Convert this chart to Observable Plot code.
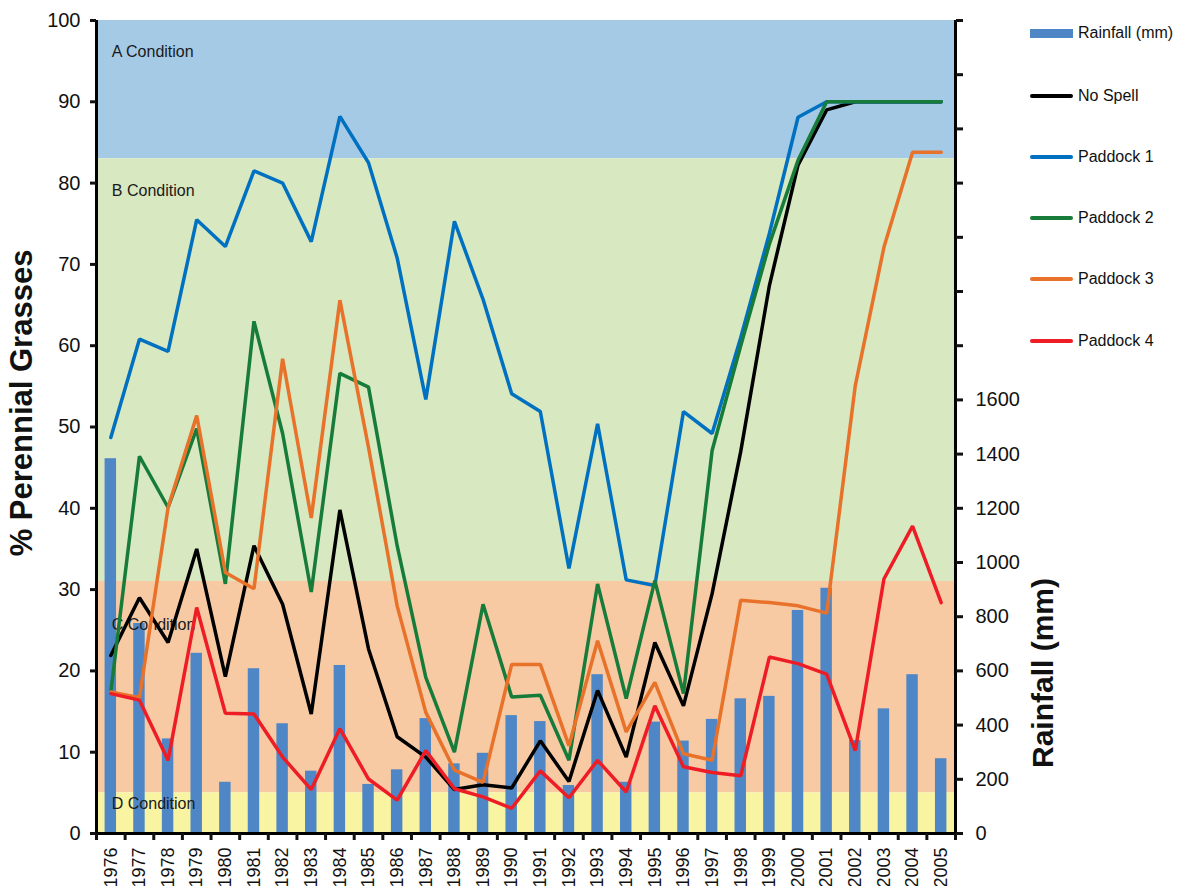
<!DOCTYPE html>
<html><head><meta charset="utf-8">
<script src="https://cdn.jsdelivr.net/npm/d3@7"></script>
<script src="https://cdn.jsdelivr.net/npm/@observablehq/plot@0.6"></script>
<style>
body{margin:0;background:#fff;overflow:hidden;font-family:"Liberation Sans",Arial,sans-serif}
#wrap{position:relative;width:1182px;height:886px}
.leg{position:absolute;left:1030px;height:20px;display:flex;align-items:center;font-size:16px;color:#111;white-space:nowrap}
.sw{width:43px;margin-right:5px}
</style></head><body><div id="wrap"></div><script>
// ---- data ----
const years = [1976,1977,1978,1979,1980,1981,1982,1983,1984,1985,1986,1987,1988,1989,1990,
               1991,1992,1993,1994,1995,1996,1997,1998,1999,2000,2001,2002,2003,2004,2005];
const rainfallMm = [1383,775,349,665,189,608,405,230,620,181,235,424,257,296,435,
                    413,177,586,189,411,341,421,497,506,823,905,343,460,586,276];
const noSpell  = [21.9,29.0,23.5,35.0,19.3,35.4,28.2,14.7,39.8,22.7,11.9,9.4,5.4,6.0,5.6,
                  11.4,6.4,17.6,9.4,23.5,15.7,29.5,47.0,67.4,82.2,89.0,90.0,90.0,90.0,90.0];
const paddock1 = [48.7,60.8,59.3,75.5,72.2,81.5,80.0,72.8,88.2,82.5,70.8,53.4,75.3,65.7,54.1,
                  51.9,32.6,50.4,31.2,30.5,51.9,49.2,61.0,73.8,88.1,90.0,90.0,90.0,90.0,90.0];
const paddock2 = [17.4,46.4,40.1,49.8,30.7,63.0,49.2,29.7,56.6,54.9,35.4,19.2,10.0,28.2,16.8,
                  17.0,9.0,30.7,16.6,31.1,17.2,47.1,60.0,72.5,82.8,90.0,90.0,90.0,90.0,90.0];
const paddock3 = [17.4,16.7,40.1,51.4,32.1,30.1,58.4,38.8,65.6,47.5,28.0,14.9,7.8,6.3,20.8,
                  20.8,10.8,23.7,12.5,18.6,9.8,9.0,28.7,28.4,28.0,27.1,55.1,72.1,83.8,83.8];
const paddock4 = [17.2,16.4,9.0,27.8,14.8,14.7,9.4,5.4,12.9,6.7,4.1,10.2,5.5,4.5,3.1,
                  7.7,4.4,9.0,5.1,15.7,8.2,7.5,7.1,21.7,20.9,19.6,10.2,31.3,37.8,28.4];
const pctTicks = [0,10,20,30,40,50,60,70,80,90,100];
const rainTicks = [0,200,400,600,800,1000,1200,1400,1600,1800,2000,2200,2400,2600,2800,3000];
const rainLabelMax = 1600;
const rainMax = 3000;
const conditionNames = ["A Condition","B Condition","C Condition","D Condition"];
const conditionLow   = [83,31,5,0];
const conditionHigh  = [100,83,31,5];
const conditionLabelY = [96.2,79.1,25.6,3.6];
const conditionColors = ["#a5cae6","#d8e8c1","#f7caa4","#f8f4a2"];
const seriesNames  = ["No Spell","Paddock 1","Paddock 2","Paddock 3","Paddock 4"];
const seriesValues = [noSpell,paddock1,paddock2,paddock3,paddock4];
const seriesColors = ["#000000","#0070c0","#177b3a","#e8722a","#ee1d25"];
const barColor = "#4f87c6";

// ---- derived tables ----
const pctPerMm = 100 / rainMax;
const bands = conditionNames.map((n,i)=>({name:n, lo:conditionLow[i], hi:conditionHigh[i], labelY:conditionLabelY[i], color:conditionColors[i]}));
const rainRows = years.map((y,i)=>({year:y, mm:rainfallMm[i]}));
const boundaries = [years[0]-0.5, ...years.map(y=>y+0.5)];
const lineMarks = seriesValues.map((vals,k)=>
  Plot.line(years.map((y,i)=>({year:y, v:vals[i]})), {x:"year", y:"v", stroke:seriesColors[k], strokeWidth:3.5, strokeLinejoin:"miter"}));

const plot = Plot.plot({
  width:1182, height:886,
  marginLeft:96, marginRight:227, marginTop:20, marginBottom:53,
  x:{domain:[years[0]-0.5, years[years.length-1]+0.5]},
  y:{domain:[0,100]},
  color:{type:"identity"},
  style:{fontFamily:"'Liberation Sans', Arial, sans-serif", fontSize:"20px", color:"#111", background:"white", overflow:"visible"},
  marks:[
    Plot.rect(bands, {y1:"lo", y2:"hi", fill:"color"}),
    Plot.rectY(rainRows, {x1:d=>d.year-0.2, x2:d=>d.year+0.2, y1:0, y2:d=>d.mm*pctPerMm, fill:barColor}),
    Plot.text(bands, {x:()=>years[0], y:"labelY", text:"name", textAnchor:"start", dx:1, fontSize:16, fill:"#1a1a1a"}),
    ...lineMarks,
    Plot.ruleX([years[0]-0.5, years[years.length-1]+0.5], {stroke:"black", strokeWidth:3}),
    Plot.ruleY([0], {stroke:"black", strokeWidth:3}),
    Plot.axisY({ticks:pctTicks, tickSize:6, tickPadding:10, strokeWidth:3, label:null, fontSize:20}),
    Plot.axisY(rainTicks.map(v=>v*pctPerMm), {anchor:"right", tickSize:7, tickPadding:13, strokeWidth:3, label:null, fontSize:20,
      tickFormat:d=>{const mm=Math.round(d/pctPerMm); return mm<=rainLabelMax ? String(mm) : "";}}),
    Plot.axisX({ticks:boundaries, tickSize:7, strokeWidth:3, label:null, tickFormat:()=>""}),
    Plot.axisX({ticks:years, tickSize:0, tickPadding:14, tickRotate:-90, label:null, fontSize:18, tickFormat:d=>String(d)}),
    Plot.text(["% Perennial Grasses"], {frameAnchor:"left", textAnchor:"middle", rotate:-90, dx:-74, dy:-24, fontSize:31, fontWeight:"bold", fill:"#111"}),
    Plot.text(["Rainfall (mm)"], {frameAnchor:"right", textAnchor:"middle", rotate:-90, dx:88, dy:246, fontSize:30, fontWeight:"bold", fill:"#111"})
  ]
});
const wrap = document.getElementById("wrap");
wrap.appendChild(plot);

// legend
const legItems = [{name:"Rainfall (mm)", color:barColor, h:9}, ...seriesNames.map((n,k)=>({name:n, color:seriesColors[k], h:4}))];
const legCenters = [33,96,157,218,279,341];
legItems.forEach((it,i)=>{
  const d = document.createElement("div");
  d.className = "leg";
  d.style.top = (legCenters[i]-10) + "px";
  const sw = document.createElement("span");
  sw.className = "sw";
  sw.style.height = it.h + "px";
  sw.style.background = it.color;
  if (it.h < 9) sw.style.borderRadius = "2px";
  d.appendChild(sw);
  d.appendChild(document.createTextNode(it.name));
  wrap.appendChild(d);
});
</script></body></html>
